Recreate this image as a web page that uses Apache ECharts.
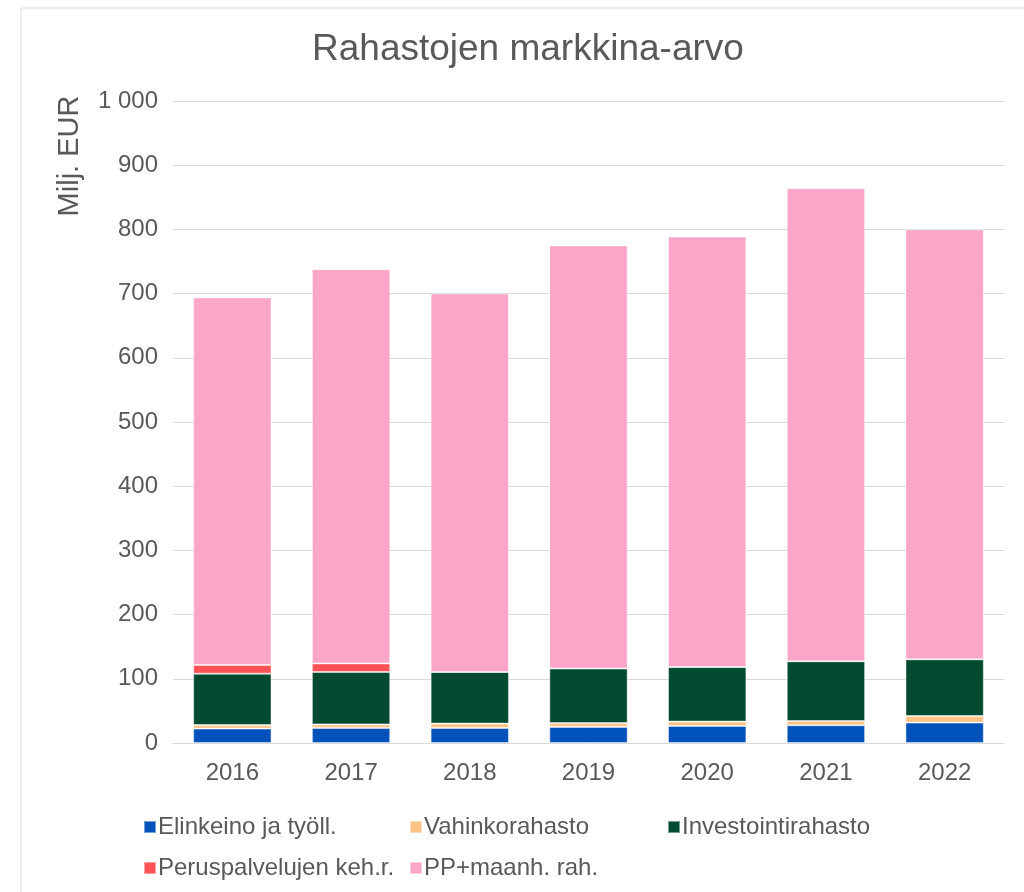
<!DOCTYPE html>
<html>
<head>
<meta charset="utf-8">
<script src="https://cdn.jsdelivr.net/npm/echarts@6/dist/echarts.min.js"></script>
<style>
  html, body { margin: 0; padding: 0; background: #fff; }
  #chart { width: 1024px; height: 892px; }
</style>
</head>
<body>
<div id="chart"></div>
<script>
// vuodet
var years = ['2016', '2017', '2018', '2019', '2020', '2021', '2022']
var yTicks = [0, 100, 200, 300, 400, 500, 600, 700, 800, 900, 1000]

// rahastot, milj. EUR (luettu kuvasta)
var elinkeino = [22.4, 23.4, 23.4, 25, 26.5, 27.6, 31.8]
var vahinko = [5.6, 5.6, 6.8, 6, 6.8, 6.7, 10.2]
var investointi = [80, 81.6, 80.4, 85, 85, 93, 88.4]
var peruspalvelu = [13.5, 13.4, 0, 0, 0, 0, 0]
var ppMaanh = [572.5, 614, 589.4, 659, 670.5, 736.7, 669.6]

var seriesNames = ['Elinkeino ja työll.', 'Vahinkorahasto', 'Investointirahasto', 'Peruspalvelujen keh.r.', 'PP+maanh. rah.']
var seriesData = [elinkeino, vahinko, investointi, peruspalvelu, ppMaanh]
var colors = ['#0051BA', '#FFC285', '#034B30', '#FF5257', '#FBA6C9']

var font = '"Liberation Sans", Arial, sans-serif'
var textColor = '#595959'

var chart = echarts.init(document.getElementById('chart'))

var legendBase = {
    orient: 'vertical',
    top: 810,
    itemWidth: 12,
    itemHeight: 12,
    itemGap: 17,
    icon: 'rect',
    textStyle: { fontFamily: font, fontSize: 24, color: textColor, padding: [0, 0, 0, -3] }
}

var option = {
    backgroundColor: '#fff',
    animation: false,
    color: colors,
    title: {
        text: 'Rahastojen markkina-arvo',
        left: 307,
        top: 26,
        textStyle: { fontFamily: font, fontSize: 37, fontWeight: 'normal', color: textColor }
    },
    grid: {
        left: 173,
        right: 20,
        top: 101,
        bottom: 149
    },
    legend: [
        Object.assign({}, legendBase, { left: 138, data: [seriesNames[0], seriesNames[3]] }),
        Object.assign({}, legendBase, { left: 404, data: [seriesNames[1], seriesNames[4]] }),
        Object.assign({}, legendBase, { left: 662, data: [seriesNames[2]] })
    ],
    xAxis: {
        type: 'category',
        data: years,
        axisLine: { lineStyle: { color: '#d9d9d9', width: 1 } },
        axisTick: { show: false },
        axisLabel: { fontFamily: font, fontSize: 24, color: textColor, margin: 18 }
    },
    yAxis: {
        type: 'value',
        min: yTicks[0],
        max: yTicks[yTicks.length - 1],
        interval: 100,
        axisLine: { show: false },
        axisTick: { show: false },
        splitLine: { lineStyle: { color: '#d9d9d9', width: 1 } },
        axisLabel: {
            fontFamily: font, fontSize: 24, color: textColor, margin: 15,
            formatter: function (v) { return v >= 1000 ? '1 000' : String(v) }
        }
    },
    graphic: [
        {
            type: 'rect',
            shape: { x: 21, y: 8, width: 1100, height: 1000 },
            style: { fill: 'none', stroke: '#d6dce4', lineWidth: 1 },
            silent: true
        },
        {
            type: 'text',
            x: 70,
            y: 156,
            rotation: Math.PI / 2,
            style: {
                text: 'Milj. EUR',
                font: '29px ' + font,
                fill: textColor,
                align: 'center',
                verticalAlign: 'middle'
            }
        }
    ],
    series: seriesNames.map(function (name, i) {
        return {
            name: name,
            type: 'bar',
            stack: 'total',
            barCategoryGap: '34%',
            data: seriesData[i],
            itemStyle: { borderColor: 'rgba(255,255,255,0.45)', borderWidth: 1 }
        }
    })
}

chart.setOption(option)
</script>
</body>
</html>
